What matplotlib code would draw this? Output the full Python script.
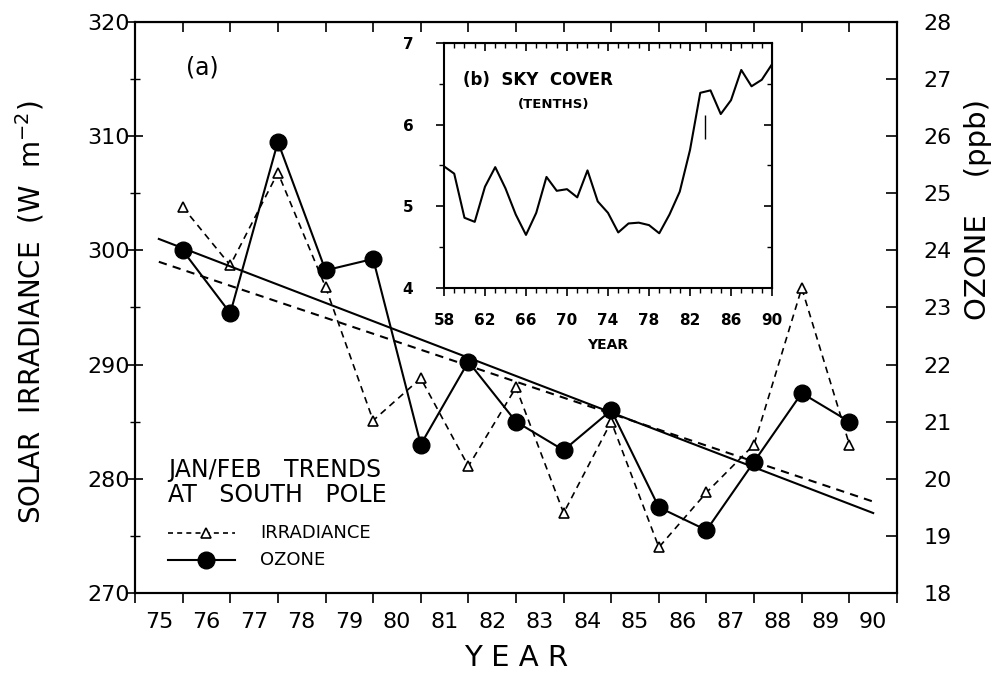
import numpy as np
import matplotlib
matplotlib.use("Agg")
import matplotlib.pyplot as plt
from matplotlib.ticker import MultipleLocator, FixedLocator, NullFormatter

plt.rcParams['font.family'] = ['DejaVu Sans']

# Jan/Feb seasons, plotted between the year labels
season_x = [75.5, 76.5, 77.5, 78.5, 79.5, 80.5, 81.5, 82.5, 83.5, 84.5,
            85.5, 86.5, 87.5, 88.5, 89.5]
irradiance = [303.8, 298.7, 306.8, 296.8, 285.1, 288.8, 281.1, 288.0, 277.0, 285.0,
              274.0, 278.8, 283.0, 296.7, 283.0]
ozone = [24.0, 22.9, 25.9, 23.65, 23.85, 20.6, 22.05, 21.0, 20.5, 21.2,
         19.5, 19.1, 20.3, 21.5, 21.0]

# trend line end points
trend_x = [75.0, 90.0]
irr_trend = [299.0, 278.0]
ozone_trend = [24.2, 19.4]

year_labels = [str(y) for y in range(75, 91)]

# inset: annual sky cover, tenths
sky_years = list(range(58, 91))
sky_cover = [5.49, 5.40, 4.86, 4.81, 5.24, 5.48, 5.22, 4.90, 4.65, 4.92,
             5.36, 5.19, 5.21, 5.11, 5.44, 5.06, 4.92, 4.68, 4.79, 4.80,
             4.77, 4.67, 4.90, 5.18, 5.69, 6.39, 6.42, 6.13, 6.30, 6.67,
             6.47, 6.55, 6.74]
sky_ticks = [58, 62, 66, 70, 74, 78, 82, 86, 90]

fig = plt.figure(figsize=(9.95, 6.86), dpi=100)
ax = fig.add_axes([0.1357, 0.1356, 0.7658, 0.8324])
ax2 = ax.twinx()

# irradiance (left axis)
ax.plot(season_x, irradiance, color='black', lw=1.2, ls=(0, (4, 3)),
        marker='^', ms=7, mfc='white', mec='black', mew=1.2, zorder=3)
ax.plot(trend_x, irr_trend, color='black', lw=1.5, ls=(0, (4, 3)), zorder=2)

# ozone (right axis)
ax2.plot(season_x, ozone, color='black', lw=1.5, marker='o', ms=12,
         mfc='black', mec='black', zorder=3)
ax2.plot(trend_x, ozone_trend, color='black', lw=1.5, zorder=2)

ax.set_xlim(74.5, 90.5)
ax.set_ylim(270, 320)
ax2.set_ylim(18, 28)

# ticks between years, labels centered on the years
ax.xaxis.set_major_locator(FixedLocator(np.arange(74.5, 91.0, 1.0)))
ax.xaxis.set_major_formatter(NullFormatter())
ax.set_xticks(np.arange(75, 91), labels=year_labels, minor=True)
ax.tick_params(axis='x', which='major', direction='out', length=7, width=1.2)
ax.tick_params(axis='x', which='minor', length=0, labelsize=16, pad=14)

ax.yaxis.set_major_locator(MultipleLocator(10))
ax.yaxis.set_minor_locator(MultipleLocator(5))
ax.tick_params(axis='y', which='major', direction='inout', length=12, width=1.2,
               labelsize=16, pad=-2, right=False)
ax.tick_params(axis='y', which='minor', direction='inout', length=7, width=1.0, right=False)

ax2.yaxis.set_major_locator(MultipleLocator(1))
ax2.tick_params(axis='y', direction='in', length=8, width=1.2, labelsize=16, pad=19)

top = ax.secondary_xaxis('top')
top.xaxis.set_major_locator(FixedLocator(np.arange(74.5, 91.0, 1.0)))
top.xaxis.set_major_formatter(NullFormatter())
top.tick_params(direction='in', length=7, width=1.2)

for a in (ax, ax2):
    for s in a.spines.values():
        s.set_linewidth(1.5)

fig.text(0.030, 0.545, 'SOLAR  IRRADIANCE  (W  m$^{-2}$)', rotation=90,
         fontsize=20, ha='center', va='center')
fig.text(0.983, 0.694, 'OZONE    (ppb)', rotation=90, fontsize=21,
         ha='center', va='center')
ax.set_xlabel('Y E A R', fontsize=21, labelpad=8)

ax.text(75.57, 316.0, '(a)', fontsize=17, va='center')
ax.text(75.2, 280.8, 'JAN/FEB   TRENDS', fontsize=17, va='center')
ax.text(75.2, 278.6, 'AT   SOUTH   POLE', fontsize=17, va='center')

# hand-made legend
ax.plot([75.2, 76.6], [275.25, 275.25], color='black', lw=1.2, ls=(0, (3, 2.5)))
ax.plot([76.0], [275.25], marker='^', ms=7, mfc='white', mec='black', mew=1.2, ls='none')
ax.plot([75.2, 76.6], [272.9, 272.9], color='black', lw=1.5)
ax.plot([76.0], [272.9], marker='o', ms=12, color='black', ls='none')
ax.text(77.13, 275.25, 'IRRADIANCE', fontsize=13, va='center')
ax.text(77.13, 272.9, 'OZONE', fontsize=13, va='center')

# inset (b)
axi = fig.add_axes([0.4462, 0.5802, 0.3297, 0.3571])
axi.plot(sky_years, sky_cover, color='black', lw=1.5)
axi.vlines(83.45, 5.83, 6.12, color='black', lw=1.0)
axi.set_xlim(58, 90)
axi.set_ylim(4, 7)
axi.xaxis.set_major_locator(FixedLocator(sky_ticks))
axi.xaxis.set_minor_locator(MultipleLocator(1))
axi.yaxis.set_major_locator(MultipleLocator(1))
axi.yaxis.set_minor_locator(MultipleLocator(0.5))
axi.tick_params(axis='x', which='major', direction='out', length=6, width=1.2,
                labelsize=11, pad=12)
axi.tick_params(axis='y', which='major', direction='out', length=6, width=1.2,
                labelsize=11, pad=16)
axi.tick_params(which='minor', direction='out', length=3.5, width=1.0)
for lab in axi.get_xticklabels() + axi.get_yticklabels():
    lab.set_fontweight('bold')
for s in axi.spines.values():
    s.set_linewidth(1.5)
itop = axi.secondary_xaxis('top')
itop.xaxis.set_major_locator(FixedLocator(sky_ticks))
itop.xaxis.set_minor_locator(MultipleLocator(1))
itop.xaxis.set_major_formatter(NullFormatter())
itop.tick_params(which='major', direction='in', length=6, width=1.2)
itop.tick_params(which='minor', direction='in', length=3.5, width=1.0)
iright = axi.secondary_yaxis('right')
iright.yaxis.set_major_locator(MultipleLocator(1))
iright.yaxis.set_minor_locator(MultipleLocator(0.5))
iright.yaxis.set_major_formatter(NullFormatter())
iright.tick_params(which='major', direction='in', length=6, width=1.2)
iright.tick_params(which='minor', direction='in', length=3.5, width=1.0)
axi.set_xlabel('YEAR', fontsize=10, fontweight='bold', labelpad=7)
axi.text(0.058, 0.849, '(b)  SKY  COVER', transform=axi.transAxes,
         fontsize=12, fontweight='bold', va='center')
axi.text(0.225, 0.751, '(TENTHS)', transform=axi.transAxes,
         fontsize=9.5, fontweight='bold', va='center')

fig.savefig('out.png', dpi=100)
